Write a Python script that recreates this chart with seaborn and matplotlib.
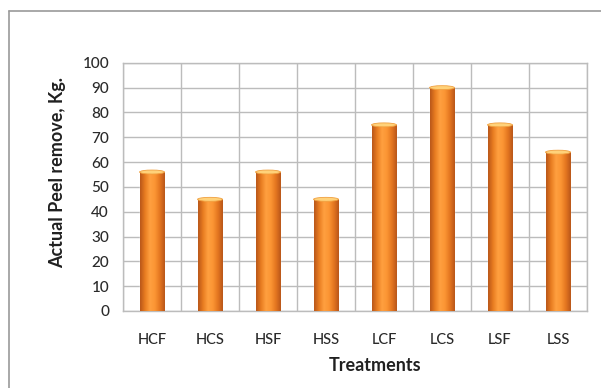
import numpy as np
import pandas as pd
import matplotlib
matplotlib.use("Agg")
import matplotlib.pyplot as plt
from matplotlib.colors import LinearSegmentedColormap
from matplotlib.patches import Ellipse, Rectangle
from matplotlib.lines import Line2D
import seaborn as sns

treatments = ["HCF", "HCS", "HSF", "HSS", "LCF", "LCS", "LSF", "LSS"]
peel_removed = [56, 45, 56, 45, 75, 90, 75, 64]
y_ticks = [0, 10, 20, 30, 40, 50, 60, 70, 80, 90, 100]

df = pd.DataFrame({"Treatments": treatments, "Peel": peel_removed})

sns.set_style("white")
plt.rcParams["font.family"] = ["Lato", "DejaVu Sans"]

fig = plt.figure(figsize=(6.01, 3.88), dpi=100)
ax = fig.add_axes([0.2047, 0.1985, 0.7720, 0.6395])

sns.barplot(data=df, x="Treatments", y="Peel", color="#f08a2a", width=0.43,
            saturation=1, ax=ax, zorder=3)

ax.set_ylim(0, 100)
ax.set_xlim(-0.5, len(treatments) - 0.5)
ax.set_yticks(y_ticks)
ax.set_yticklabels([str(v) for v in y_ticks], fontsize=11, color="#2a2a2a",
                   fontweight="medium")
ax.set_xticks(range(len(treatments)))
ax.set_xticklabels(treatments, fontsize=10.5, color="#2a2a2a", fontweight="medium")
ax.set_xticks(np.arange(-0.5, len(treatments)), minor=True)

grid_c = "#bcbcbc"
ax.yaxis.grid(True, color=grid_c, linewidth=1.0, zorder=0)
ax.xaxis.grid(True, which="minor", color=grid_c, linewidth=1.0, zorder=0)
ax.xaxis.grid(False, which="major")
ax.set_axisbelow(True)
ax.tick_params(axis="x", which="major", length=0, pad=16)
ax.tick_params(axis="x", which="minor", length=6, color=grid_c, width=1.0)
ax.tick_params(axis="y", length=5, color=grid_c, width=1.0, pad=5)
for s in ax.spines.values():
    s.set_color(grid_c)
    s.set_linewidth(1.0)

ax.set_xlabel("Treatments", fontsize=13, fontweight="bold", color="#202020", labelpad=7)
ax.set_ylabel("Actual Peel remove, Kg.", fontsize=13, fontweight="bold", color="#202020",
              labelpad=12)
ax.xaxis.label.set_x(0.543)
ax.yaxis.label.set_y(0.56)

# Cylinder shading on each bar
cyl = LinearSegmentedColormap.from_list(
    "cyl", ["#b8561a", "#e87c20", "#ffa040", "#fb9534", "#e47620", "#b8561a"])
grad = np.linspace(0, 1, 128).reshape(1, -1)
for bar in list(ax.patches):
    x0, w, h = bar.get_x(), bar.get_width(), bar.get_height()
    im = ax.imshow(grad, cmap=cyl, aspect="auto", extent=[x0, x0 + w, 0, h],
                   zorder=4, interpolation="bicubic")
    clip = Rectangle((x0, 0), w, h, transform=ax.transData, visible=False)
    ax.add_patch(clip)
    im.set_clip_path(clip)
    ax.add_patch(Ellipse((x0 + w / 2, h), w, 1.6, facecolor="#ffd27a",
                         edgecolor="#f0a040", linewidth=0.6, zorder=5))
ax.set_xlim(-0.5, len(treatments) - 0.5)
ax.set_ylim(0, 100)

# Chart area frame: top and left edges
fx, fy = 9 / 601, 1 - 11 / 388
fig.add_artist(Line2D([fx, 1], [fy, fy], transform=fig.transFigure,
                      color="#9a9a9a", linewidth=1.2))
fig.add_artist(Line2D([fx, fx], [0, fy], transform=fig.transFigure,
                      color="#9a9a9a", linewidth=1.2))

fig.savefig("out.png", dpi=100)
